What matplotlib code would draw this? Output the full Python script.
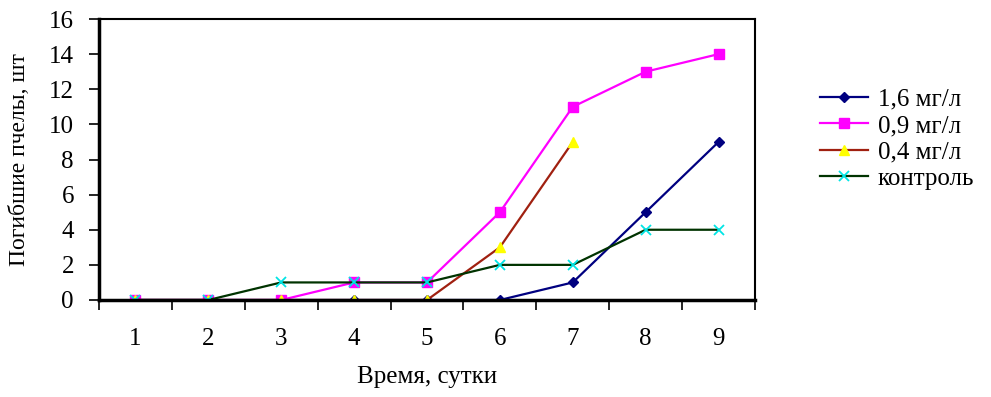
import numpy as np
import matplotlib.pyplot as plt

plt.rcParams['font.family'] = ['Liberation Serif', 'DejaVu Serif']

# сутки
days = [1, 2, 3, 4, 5, 6, 7, 8, 9]
# погибшие пчелы по концентрациям
c16 = [0, 0, 0, 0, 0, 0, 1, 5, 9]
c09 = [0, 0, 0, 1, 1, 5, 11, 13, 14]
c04 = [0, 0, 0, 0, 0, 3, 9]
control = [0, 0, 1, 1, 1, 2, 2, 4, 4]
labels = ['1,6 мг/л', '0,9 мг/л', '0,4 мг/л', 'контроль']

fig = plt.figure(figsize=(9.91, 3.97), dpi=100)
ax = fig.add_axes([99 / 991, 1 - 300 / 397, (755 - 99) / 991, (300 - 19) / 397])

ax.plot(days, c16, color='#000080', lw=1.6, marker='D', ms=5.5,
        mfc='#000080', mec='#000080', label=labels[0])
ax.plot(days, c09, color='#FF00FF', lw=1.6, marker='s', ms=7,
        mfc='#FF00FF', mec='#FF00FF', label=labels[1])
ax.plot(days[:len(c04)], c04, color='#A02010', lw=1.6, marker='^', ms=7,
        mfc='#FFFF00', mec='#FFFF00', label=labels[2])
ax.plot(days, control, color='#003300', lw=1.6, marker='x', ms=7, mew=1.3,
        mfc='#00E5E5', mec='#00E5E5', label=labels[3])

ax.set_xlim(0.5, 9.5)
ax.set_ylim(0, 16)
ax.set_yticks(np.arange(0, 17, 2))
ax.set_xticks(days)
ax.set_xticks(np.arange(0.5, 9.6, 1), minor=True)
ax.tick_params(axis='x', which='major', length=0, pad=20, labelsize=18)
ax.tick_params(axis='x', which='minor', length=7, width=1.2, direction='out')
ax.tick_params(axis='y', length=7, width=1.2, direction='out', labelsize=18, pad=11)

for s in ['top', 'right']:
    ax.spines[s].set_linewidth(1.5)
ax.spines['left'].set_linewidth(2.5)
ax.spines['bottom'].set_linewidth(2.5)

ax.set_xlabel('Время, сутки', fontsize=18, labelpad=12)
ax.set_ylabel('Погибшие пчелы, шт', fontsize=17, labelpad=14)

ax.legend(loc='upper left', bbox_to_anchor=(820 / 991, 1 - 88 / 397),
          bbox_transform=fig.transFigure, frameon=False, borderpad=0,
          borderaxespad=0, fontsize=18, handlelength=1.9,
          labelspacing=0.16, handletextpad=0.4)

fig.savefig('out.png', dpi=100)
